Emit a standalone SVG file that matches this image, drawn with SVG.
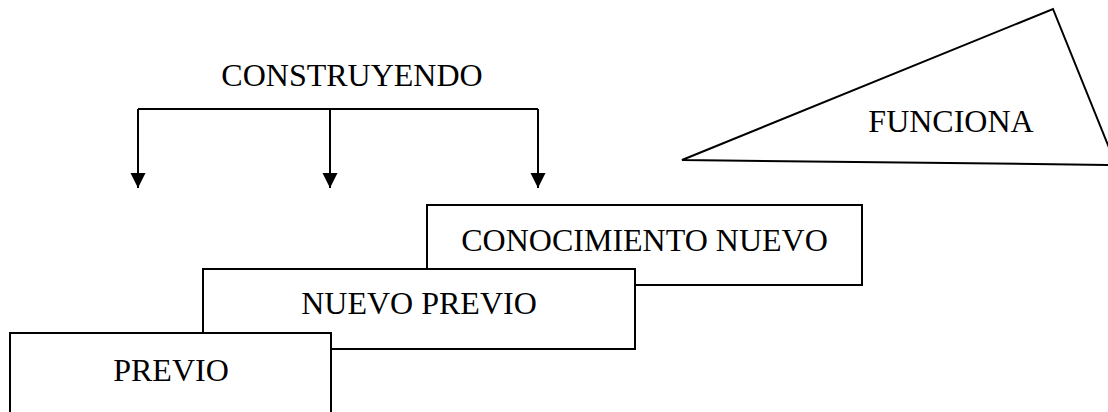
<svg xmlns="http://www.w3.org/2000/svg" width="1108" height="412" viewBox="0 0 1108 412">
<style>
.box{fill:#fff;stroke:#000;stroke-width:2}
.lbl{font-family:"Liberation Serif","Times New Roman",serif;font-size:32px;fill:#000;text-anchor:middle}
.ln{fill:none;stroke:#000;stroke-width:2}
</style>
<defs>
<marker id="ah" markerWidth="16" markerHeight="16" refX="15" refY="8" orient="auto" markerUnits="userSpaceOnUse" viewBox="0 0 16 16">
<path d="M0,0.5 L15,8 L0,15.5 Z" fill="#000"/>
</marker>
</defs>
<rect width="1108" height="412" fill="#fff"/>
<g id="title">
<text class="lbl" x="352" y="86">CONSTRUYENDO</text>
</g>
<g id="connectors">
<path class="ln" d="M138,109 H538"/>
<path class="ln" d="M138,109 V188" marker-end="url(#ah)"/>
<path class="ln" d="M330,109 V188" marker-end="url(#ah)"/>
<path class="ln" d="M538,109 V188" marker-end="url(#ah)"/>
</g>
<g id="funciona">
<polygon class="box" points="682,160 1053,9 1116,165"/>
<text class="lbl" x="951" y="132">FUNCIONA</text>
</g>
<g id="conocimiento-nuevo">
<rect class="box" x="427" y="205" width="435" height="80"/>
<text class="lbl" x="644.5" y="251">CONOCIMIENTO NUEVO</text>
</g>
<g id="nuevo-previo">
<rect class="box" x="203" y="269" width="432" height="80"/>
<text class="lbl" x="419" y="314">NUEVO PREVIO</text>
</g>
<g id="previo">
<rect class="box" x="10" y="333" width="321" height="100"/>
<text class="lbl" x="171" y="381">PREVIO</text>
</g>
</svg>
